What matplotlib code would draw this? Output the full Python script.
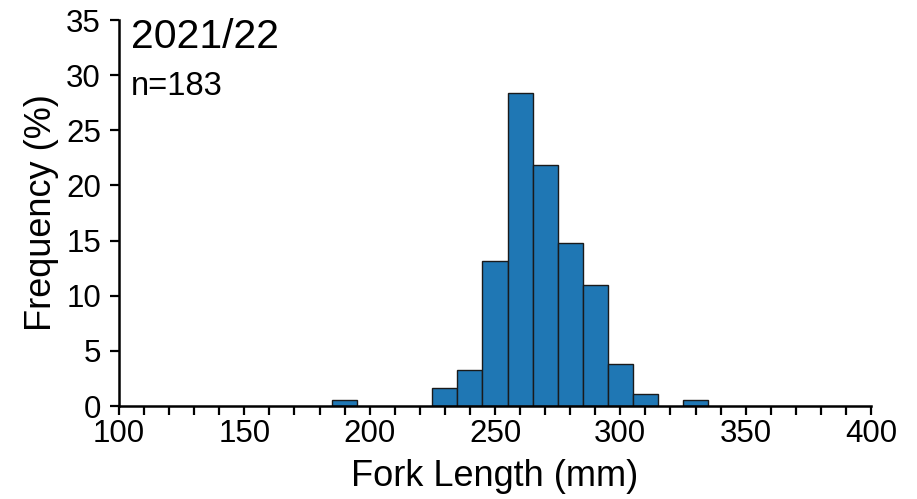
import matplotlib
matplotlib.use("Agg")
import matplotlib.pyplot as plt
import numpy as np

plt.rcParams['font.family'] = ['Liberation Sans', 'DejaVu Sans']

bin_centers = [190, 230, 240, 250, 260, 270, 280, 290, 300, 310, 330]
counts = [1, 3, 6, 24, 52, 40, 27, 20, 7, 2, 1]
n_total = 183
freq = [c / n_total * 100 for c in counts]
title = "2021/22"
x_ticks = [100, 150, 200, 250, 300, 350, 400]
y_ticks = [0, 5, 10, 15, 20, 25, 30, 35]

fig = plt.figure(figsize=(9.17, 4.99), dpi=100)
ax = fig.add_axes([119/917, 1-406/499, (871-119)/917, (406-20)/499])

ax.bar(bin_centers, freq, width=10, color='#1f77b4', edgecolor='#1a1a1a', linewidth=1.0)

ax.set_xlim(100, 400)
ax.set_ylim(0, 35)
ax.set_xticks(x_ticks)
ax.set_xticks(np.arange(100, 401, 10), minor=True)
ax.set_yticks(y_ticks)
ax.spines['top'].set_visible(False)
ax.spines['right'].set_visible(False)
for s in ['left', 'bottom']:
    ax.spines[s].set_linewidth(1.8)
ax.tick_params(axis='both', which='both', direction='out', length=6.5, width=1.6, labelsize=22.5)
ax.tick_params(axis='x', which='both', pad=3)
ax.tick_params(axis='y', which='both', pad=6.5)
ax.set_xlabel("Fork Length (mm)", fontsize=26, labelpad=7)
ax.set_ylabel("Frequency (%)", fontsize=26, labelpad=5)

ax.text(131/917, 1-48/499, title, transform=fig.transFigure, fontsize=29.5, ha='left', va='baseline')
ax.text(131/917, 1-95/499, f"n={n_total}", transform=fig.transFigure, fontsize=23.5, ha='left', va='baseline')

fig.savefig("out.png", dpi=100)
